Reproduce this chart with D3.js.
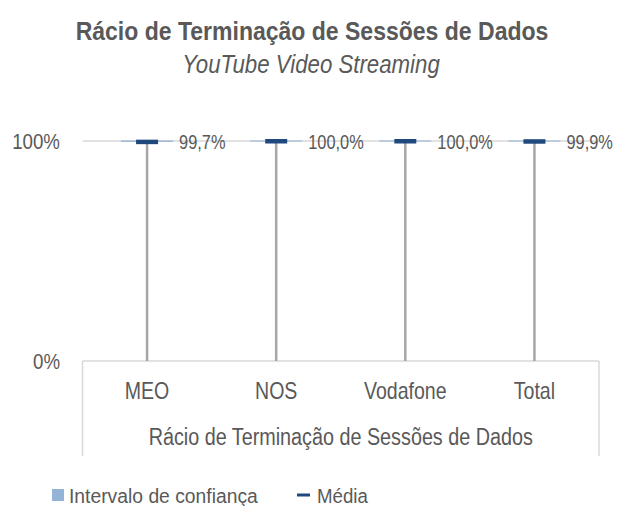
<!DOCTYPE html>
<html><head><meta charset="utf-8">
<script src="https://cdn.jsdelivr.net/npm/d3@7"></script>
<style>
body{margin:0;background:#fff;}
svg text{font-family:"Liberation Sans",Arial,sans-serif;fill:#595959;}
</style></head>
<body><svg id="c" width="617" height="506"></svg>
<script>
const categories = ["MEO", "NOS", "Vodafone", "Total"];
const meanValues = [0.997, 1.000, 1.000, 0.999];
const ciLower = [0.994, 1.000, 1.000, 0.998];
const ciUpper = [1.000, 1.000, 1.000, 1.000];
const meanLabels = ["99,7%", "100,0%", "100,0%", "99,9%"];
const yTicks = [0, 1];
const yTickLabels = ["0%", "100%"];
const axisTitle = "Rácio de Terminação de Sessões de Dados";
const chartTitle = "Rácio de Terminação de Sessões de Dados";
const chartSubtitle = "YouTube Video Streaming";
const legendItems = ["Intervalo de confiança", "Média"];

const svg = d3.select("#c");
const x = d3.scaleBand().domain(categories).range([82.5, 599]).padding(0);
const y = d3.scaleLinear().domain([0, 1]).range([361, 141]);

// condense text horizontally (narrow font look) with a scale transform
function squeeze(sel, f) {
  sel.each(function() {
    const t = d3.select(this);
    const tx = +t.attr("x") || 0, ty = +t.attr("y") || 0;
    t.attr("x", 0).attr("y", 0).attr("transform", `translate(${tx},${ty}) scale(${f},1)`);
  });
  return sel;
}

// title
squeeze(svg.append("text").attr("x", 312).attr("y", 40).attr("text-anchor", "middle")
  .style("font-size", "26px").style("font-weight", "bold").text(chartTitle), 0.885);
squeeze(svg.append("text").attr("x", 311).attr("y", 73).attr("text-anchor", "middle")
  .style("font-size", "25px").style("font-style", "italic").text(chartSubtitle), 0.89);

// gridlines
svg.append("g").selectAll("line").data(yTicks).join("line")
  .attr("x1", 82.5).attr("x2", 599).attr("y1", d => y(d)).attr("y2", d => y(d))
  .attr("stroke", "#d9d9d9").attr("stroke-width", 1.5);

// y tick labels
squeeze(svg.append("g").selectAll("text").data(yTicks).join("text")
  .attr("x", 60).attr("y", d => y(d)).attr("dy", "0.36em").attr("text-anchor", "end")
  .style("font-size", "22px").text((d, i) => yTickLabels[i]), 0.85);

// category box
const bx = svg.append("g");
bx.append("line").attr("x1", 82.5).attr("x2", 82.5).attr("y1", y(0)).attr("y2", 456).attr("stroke", "#d9d9d9").attr("stroke-width", 1.5);
bx.append("line").attr("x1", 599).attr("x2", 599).attr("y1", y(0)).attr("y2", 456).attr("stroke", "#d9d9d9").attr("stroke-width", 1.5);
squeeze(bx.selectAll("text.cat").data(categories).join("text").attr("class", "cat")
  .attr("x", d => x(d) + x.bandwidth() / 2).attr("y", 399).attr("text-anchor", "middle")
  .style("font-size", "23px").text(d => d), 0.85);
squeeze(bx.append("text").attr("x", (82.5 + 599) / 2).attr("y", 445).attr("text-anchor", "middle")
  .style("font-size", "23px").text(axisTitle), 0.86);

// high-low lines
const data = categories.map((c, i) => ({c, m: meanValues[i], lo: ciLower[i], hi: ciUpper[i], lab: meanLabels[i]}));
const cx = d => x(d.c) + x.bandwidth() / 2;
svg.append("g").selectAll("line").data(data).join("line")
  .attr("x1", cx).attr("x2", cx).attr("y1", y(0)).attr("y2", d => y(d.m) + 1)
  .attr("stroke", "#a6a6a6").attr("stroke-width", 2.5);

// CI bars
svg.append("g").selectAll("rect").data(data).join("rect")
  .attr("x", d => cx(d) - 26).attr("width", 52)
  .attr("y", d => y(d.hi) - 0.5).attr("height", d => Math.max(1, y(d.lo) - y(d.hi)))
  .attr("fill", "#95b3d7");

// mean markers
svg.append("g").selectAll("rect").data(data).join("rect")
  .attr("x", d => cx(d) - 11).attr("width", 22)
  .attr("y", d => y(d.m) - 2).attr("height", 4.5)
  .attr("fill", "#1f497d");

// data labels
squeeze(svg.append("g").selectAll("text").data(data).join("text")
  .attr("x", d => cx(d) + 32).attr("y", d => y(d.m)).attr("dy", "0.36em")
  .style("font-size", "21px").text(d => d.lab), 0.78);

// legend
const lg = svg.append("g");
lg.append("rect").attr("x", 52).attr("y", 489).attr("width", 12).attr("height", 12).attr("fill", "#95b3d7");
squeeze(lg.append("text").attr("x", 69).attr("y", 503).style("font-size", "21px").text(legendItems[0]), 0.92);
lg.append("line").attr("x1", 297).attr("x2", 310).attr("y1", 495).attr("y2", 495).attr("stroke", "#1f497d").attr("stroke-width", 3);
squeeze(lg.append("text").attr("x", 317).attr("y", 503).style("font-size", "21px").text(legendItems[1]), 0.89);
</script></body></html>
